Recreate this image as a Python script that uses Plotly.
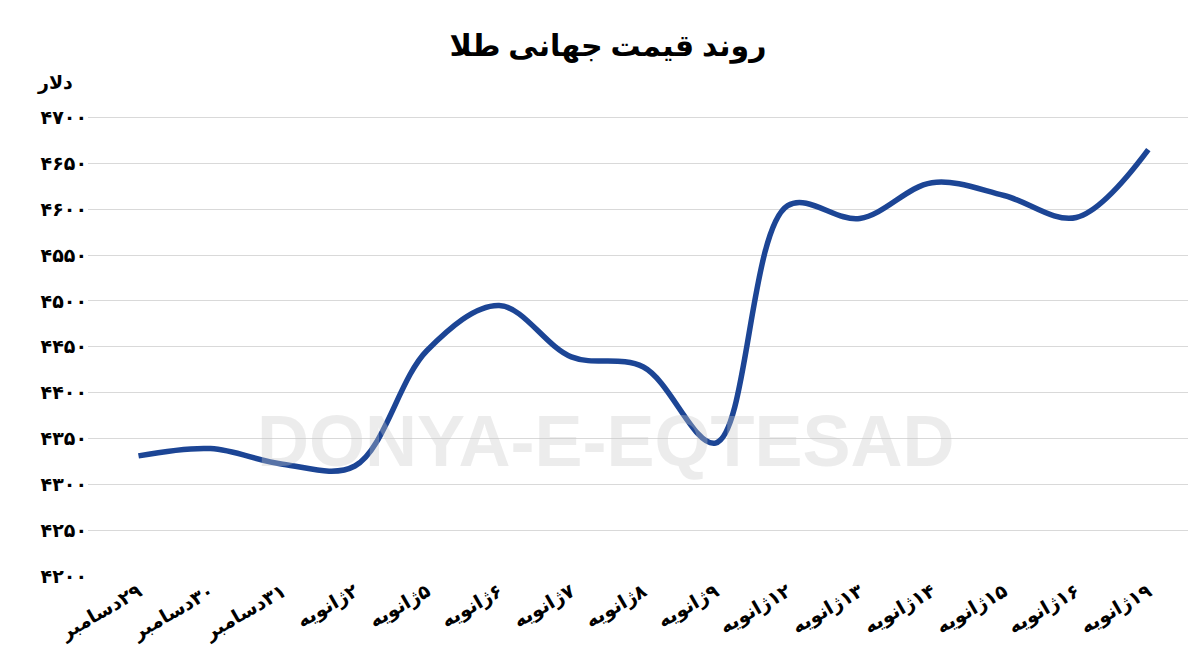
import plotly.graph_objects as go

def fa(s):
    return str(s).translate(str.maketrans("0123456789", "۰۱۲۳۴۵۶۷۸۹"))

categories = ["۲۹دسامبر", "۳۰دسامبر", "۳۱دسامبر", "۲ژانویه", "۵ژانویه", "۶ژانویه", "۷ژانویه",
              "۸ژانویه", "۹ژانویه", "۱۲ژانویه", "۱۳ژانویه", "۱۴ژانویه", "۱۵ژانویه", "۱۶ژانویه", "۱۹ژانویه"]
prices = [4331, 4339, 4322, 4320, 4446, 4495, 4439, 4428, 4345, 4604, 4590, 4629, 4615, 4591, 4665]
yticks = list(range(4200, 4701, 50))

fig = go.Figure(go.Scatter(x=list(range(len(categories))), y=prices, mode="lines",
                           line=dict(color="#1c4595", width=5.5, shape="spline", smoothing=1.0)))
fig.update_layout(
    width=1200, height=668, paper_bgcolor="white", plot_bgcolor="white",
    margin=dict(l=80, r=20, t=105, b=100), showlegend=False,
    font=dict(family="Noto Sans, DejaVu Sans", color="black"),
    title=dict(text="<b>روند قیمت جهانی طلا</b>", x=0.5, y=0.96, xanchor="center", font=dict(size=30)),
    xaxis=dict(tickmode="array", tickvals=list(range(len(categories))),
               ticktext=["<b>\u200f" + c + "</b>" for c in categories],
               tickangle=-30, tickfont=dict(size=19), range=[-0.7, len(categories) - 0.45],
               showgrid=False, zeroline=False, showline=False),
    yaxis=dict(tickmode="array", tickvals=yticks, ticktext=["<b>" + fa(v) + "</b>" for v in yticks],
               range=[4200, 4705], tickfont=dict(size=19), gridcolor="#d9d9d9", zeroline=False, showline=False),
    annotations=[
        dict(text="<b>دلار</b>", xref="paper", yref="paper", x=-0.03, y=1.1, showarrow=False,
             xanchor="center", font=dict(size=19)),
        dict(text="<b>DONYA-E-EQTESAD</b>", xref="paper", yref="paper", x=0.47, y=0.2, showarrow=False,
             font=dict(size=72, color="rgba(200,200,200,0.35)", family="Liberation Sans")),
    ],
)
fig.write_html("out.html")
